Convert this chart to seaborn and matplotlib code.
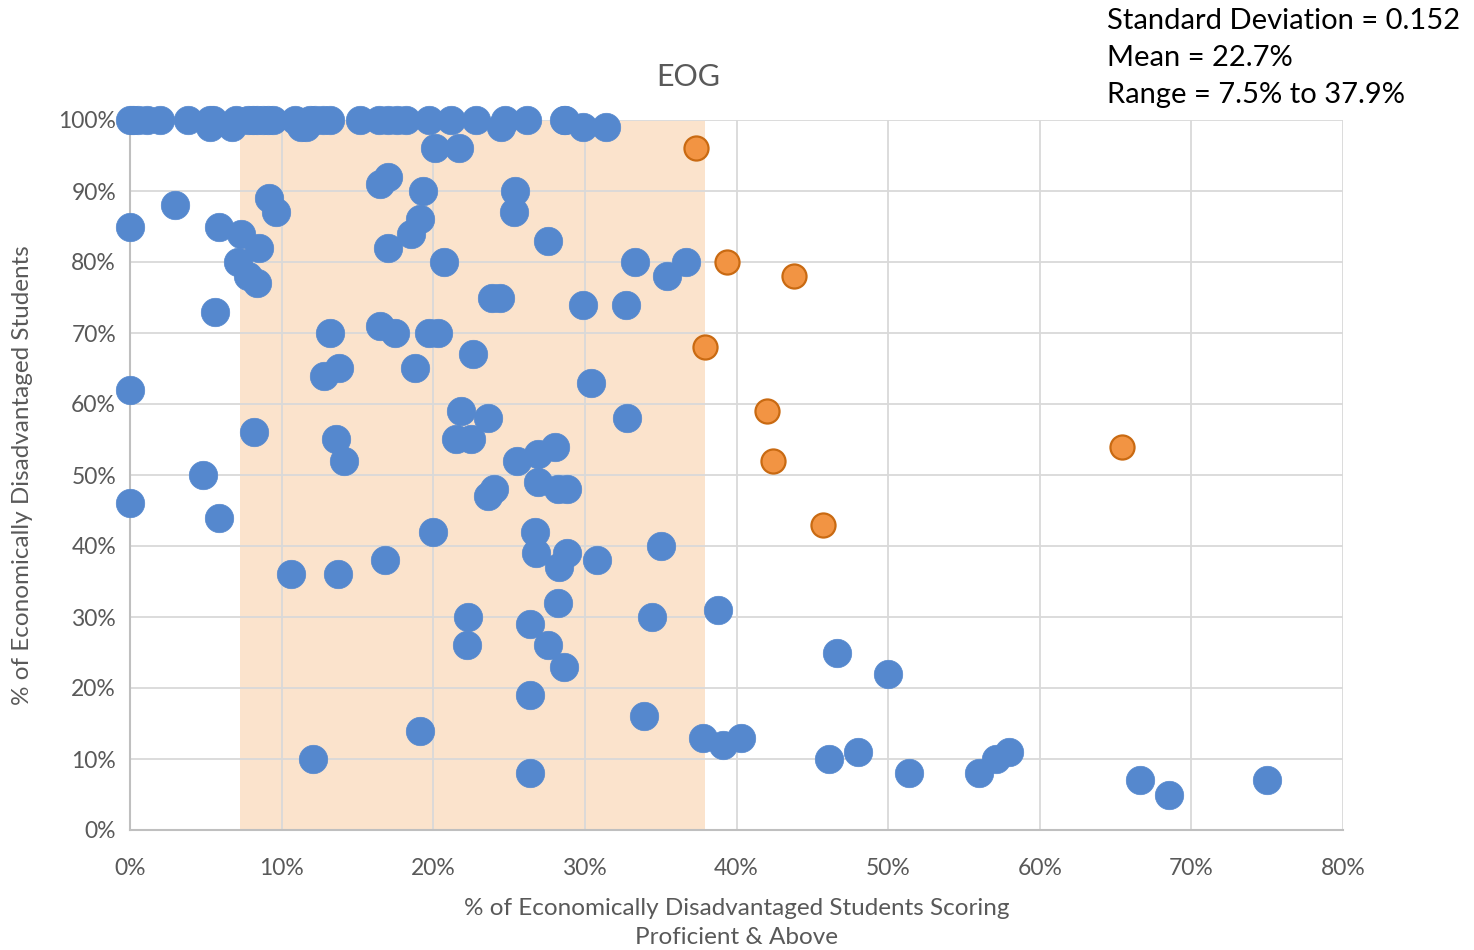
import matplotlib
matplotlib.use("Agg")
import matplotlib.pyplot as plt
import seaborn as sns
import pandas as pd
from matplotlib.ticker import FuncFormatter, MultipleLocator

# ---- data (percent) ----
top_x = [0.0, 0.2, 0.5, 1.1, 2.0, 3.8, 5.3, 5.5, 5.3, 6.7, 7.0, 7.8, 8.1, 8.4, 8.8, 9.1, 9.4,
         10.9, 11.3, 11.6, 11.9, 12.2, 12.7, 13.2, 15.2, 16.4, 17.0, 17.6, 18.2, 19.7, 21.2,
         22.8, 24.5, 24.7, 26.2, 28.6, 28.7, 29.9, 31.4]
top_y = [100, 100, 100, 100, 100, 100, 100, 100, 99, 99, 100, 100, 100, 100, 100, 100, 100,
         100, 99, 99, 100, 100, 100, 100, 100, 100, 100, 100, 100, 100, 100,
         100, 99, 100, 100, 100, 100, 99, 99]

other_x = [0.0, 3.0, 5.9, 7.3, 9.2, 9.6, 8.5, 7.1, 7.8, 8.4, 5.6, 0.0, 8.2, 4.8, 0.0, 5.9,
           10.6, 12.1, 13.7, 13.2, 12.8, 13.8, 13.6, 14.1, 16.5, 17.0, 17.0, 18.5, 19.1, 19.3,
           16.5, 17.5, 18.8, 19.7, 20.3, 20.1, 21.7, 20.7, 22.6, 16.8, 19.1, 20.0, 21.8, 23.6,
           21.5, 22.5, 22.3, 22.2, 25.4, 25.3, 27.6, 23.9, 24.4, 29.9, 25.5, 26.9, 28.0, 24.0,
           23.6, 26.9, 28.2, 28.8, 26.7, 26.8, 28.8, 28.3, 28.2, 26.4, 27.6, 28.6, 26.4, 26.4,
           30.4, 30.8, 32.8, 32.7, 33.3, 35.4, 36.7, 35.0, 34.4, 33.9, 37.8, 38.8, 39.1, 40.3,
           46.6, 50.0, 46.1, 48.0, 51.4, 56.0, 57.1, 58.0, 66.6, 68.5, 75.0]
other_y = [85, 88, 85, 84, 89, 87, 82, 80, 78, 77, 73, 62, 56, 50, 46, 44,
           36, 10, 36, 70, 64, 65, 55, 52, 91, 92, 82, 84, 86, 90,
           71, 70, 65, 70, 70, 96, 96, 80, 67, 38, 14, 42, 59, 58,
           55, 55, 30, 26, 90, 87, 83, 75, 75, 74, 52, 53, 54, 48,
           47, 49, 48, 48, 42, 39, 39, 37, 32, 29, 26, 23, 19, 8,
           63, 38, 58, 74, 80, 78, 80, 40, 30, 16, 13, 31, 12, 13,
           25, 22, 10, 11, 8, 8, 10, 11, 7, 5, 7]

outlier_x = [37.3, 39.4, 43.8, 37.9, 42.0, 42.4, 45.7, 65.4]
outlier_y = [96, 80, 78, 68, 59, 52, 43, 54]

range_lo, range_hi = 7.25, 37.9
stats_lines = ["Standard Deviation = 0.152", "Mean = 22.7%", "Range = 7.5% to 37.9%"]

blue_x = top_x + other_x
blue_y = top_y + other_y
df = pd.DataFrame({
    "x": blue_x + outlier_x,
    "y": blue_y + outlier_y,
    "grp": ["main"] * len(blue_x) + ["out"] * len(outlier_x),
})

sns.set_theme(style="white")
FONT = ["Lato", "DejaVu Sans"]
plt.rcParams["font.family"] = FONT

fig = plt.figure(figsize=(14.74, 9.5), dpi=100)
ax = fig.add_axes([130 / 1474, 1 - 830 / 950, (1343 - 130) / 1474, (830 - 120) / 950])

ax.axvspan(range_lo, range_hi, ymin=0, ymax=0.998, color="#FBE3CC", lw=0, zorder=0)

main = df[df.grp == "main"]
out = df[df.grp == "out"]
sns.scatterplot(data=main, x="x", y="y", ax=ax, color="#5588CE", s=420,
                edgecolor="#5588CE", linewidth=0.5, zorder=3, legend=False, clip_on=False)
sns.scatterplot(data=out, x="x", y="y", ax=ax, color="#F29443", s=300,
                edgecolor="#C96A12", linewidth=1.6, zorder=3, legend=False, clip_on=False)

ax.set_xlim(0, 80)
ax.set_ylim(0, 100)
ax.xaxis.set_major_locator(MultipleLocator(10))
ax.yaxis.set_major_locator(MultipleLocator(10))
ax.xaxis.set_major_formatter(FuncFormatter(lambda v, p: f"{v:.0f}%"))
ax.yaxis.set_major_formatter(FuncFormatter(lambda v, p: f"{v:.0f}%"))
ax.grid(True, color="#D9D9D9", lw=1.3, zorder=1)
ax.set_axisbelow(True)
for s in ["top", "right"]:
    ax.spines[s].set_visible(False)
for s in ["left", "bottom"]:
    ax.spines[s].set_color("#BFBFBF")
    ax.spines[s].set_linewidth(1.5)
ax.tick_params(axis="both", labelsize=16.5, colors="#595959", length=0)
ax.tick_params(axis="x", pad=20)
ax.tick_params(axis="y", pad=10)

ax.set_xlabel("% of Economically Disadvantaged Students Scoring\nProficient & Above",
              fontsize=17.5, color="#595959", linespacing=1.45)
ax.xaxis.set_label_coords((737 - 130) / 1213, (830 - 898) / 710)
ax.set_ylabel("% of Economically Disadvantaged Students", fontsize=17.5,
              color="#595959")
ax.yaxis.set_label_coords((33 - 130) / 1213, 0.5)

fig.text(688 / 1474, 1 - 77 / 950, "EOG", fontsize=22, color="#595959",
         ha="center", va="center")

for i, line in enumerate(stats_lines):
    fig.text(1107 / 1474, 1 - (21 + 37 * i) / 950, line, fontsize=21,
             color="#000000", ha="left", va="center")

fig.savefig("out.png", dpi=100)
